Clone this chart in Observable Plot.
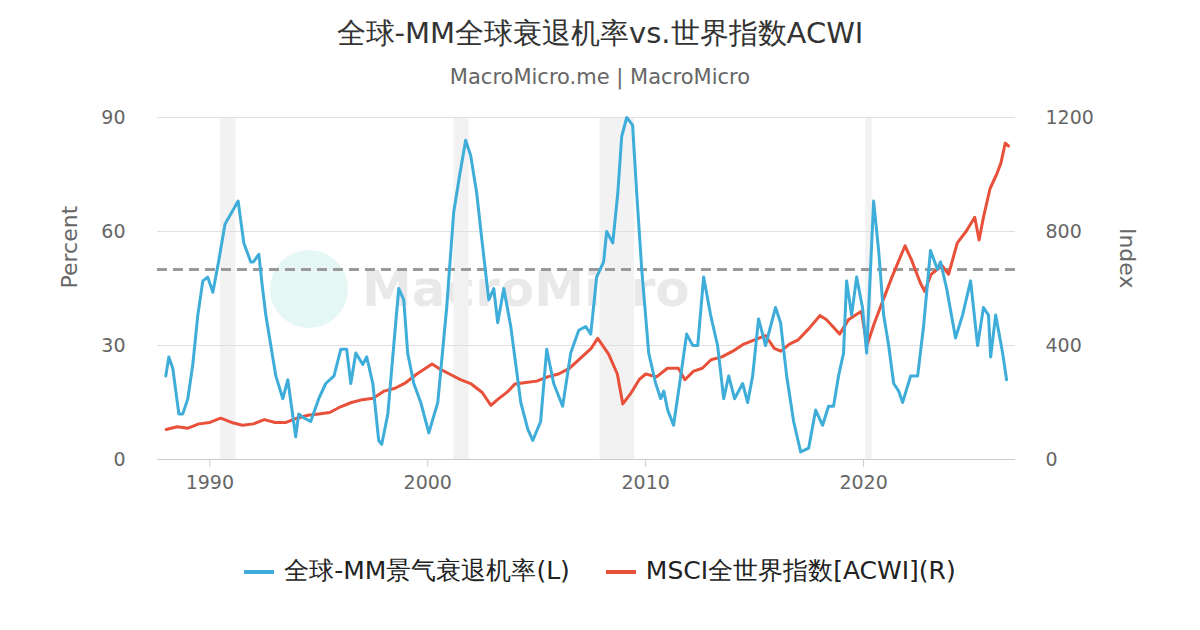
<!DOCTYPE html>
<html><head><meta charset="utf-8">
<script src="https://cdn.jsdelivr.net/npm/d3@7"></script>
<script src="https://cdn.jsdelivr.net/npm/@observablehq/plot@0.6"></script>
<style>
body{margin:0;width:1200px;height:630px;background:#fff;font-family:"DejaVu Sans",sans-serif;position:relative;overflow:hidden}
#title{position:absolute;top:14px;width:100%;text-align:center;font-size:29px;color:#333}
#sub{position:absolute;top:65px;width:100%;text-align:center;font-size:21px;color:#666}
#chart{position:absolute;top:0;left:0}
#legend{position:absolute;top:554px;width:100%;text-align:center;font-size:25px;color:#222}
#legend span{display:inline-block;margin:0 18px}
#legend i{display:inline-block;width:30px;height:4px;vertical-align:middle;margin-right:10px}
#wm{position:absolute;left:270px;top:250px;opacity:.12;font-size:50px;font-weight:bold;color:#555;display:flex;align-items:center}
#wm b{display:inline-block;width:78px;height:78px;border-radius:50%;background:#2fc4b2;margin-right:14px}
#chart text{font-family:"DejaVu Sans"}
</style></head><body>
<div id="title">全球-MM全球衰退机率vs.世界指数ACWI</div>
<div id="sub">MacroMicro.me | MacroMicro</div>
<div id="wm"><b></b>MacroMicro</div>
<div id="chart"></div>
<div id="legend"><span><i style="background:#3eadd9"></i>全球-MM景气衰退机率(L)</span><span><i style="background:#e8503a"></i>MSCI全世界指数[ACWI](R)</span></div>
<script>
const recessions = [[1990.5,1991.2],[2001.2,2001.9],[2007.9,2009.5],[2020.1,2020.4]];
const probT = [1987.98,1988.12,1988.3,1988.44,1988.58,1988.76,1988.99,1989.22,1989.45,1989.68,1989.9,1990.14,1990.4,1990.7,1991.1,1991.3,1991.56,1991.88,1992.0,1992.25,1992.4,1992.57,1993.03,1993.35,1993.58,1993.94,1994.08,1994.3,1994.63,1995.0,1995.32,1995.7,1996.01,1996.28,1996.47,1996.7,1997.02,1997.2,1997.48,1997.75,1997.89,1998.17,1998.44,1998.67,1998.9,1999.08,1999.36,1999.68,2000.05,2000.46,2000.87,2001.19,2001.47,2001.74,2001.97,2002.25,2002.48,2002.8,2003.03,2003.21,2003.49,2003.81,2004.04,2004.27,2004.59,2004.82,2005.18,2005.46,2005.78,2006.19,2006.56,2006.93,2007.25,2007.48,2007.75,2008.07,2008.21,2008.49,2008.72,2008.9,2009.13,2009.4,2009.59,2009.82,2010.14,2010.46,2010.69,2010.83,2011.01,2011.28,2011.56,2011.88,2012.16,2012.39,2012.66,2012.98,2013.3,2013.58,2013.81,2014.08,2014.45,2014.68,2014.91,2015.18,2015.5,2015.96,2016.19,2016.47,2016.79,2017.11,2017.48,2017.8,2018.12,2018.39,2018.62,2018.85,2019.08,2019.22,2019.45,2019.68,2019.95,2020.14,2020.46,2020.69,2020.92,2021.15,2021.38,2021.61,2021.79,2022.16,2022.48,2022.75,2023.07,2023.39,2023.53,2023.81,2024.22,2024.54,2024.91,2025.23,2025.5,2025.73,2025.83,2026.06,2026.38,2026.56];
const probV = [22,27,24,18,12,12,16,25,38,47,48,44,52,62,66,68,57,52,52,54,46,38,22,16,21,6,12,11,10,16,20,22,29,29,20,28,25,27,20,5,4,12,30,45,42,28,20,15,7,15,40,65,75,84,80,70,58,42,45,36,45,35,25,15,8,5,10,29,20,14,28,34,35,33,48,52,60,57,70,85,90,88,70,50,28,20,16,18,13,9,20,33,30,30,48,38,30,16,22,16,20,15,22,37,30,40,36,22,10,2,3,13,9,14,14,22,28,47,38,48,40,28,68,55,38,30,20,18,15,22,22,35,55,50,52,45,32,38,47,30,40,38,27,38,28,21];
const acwiT = [1988.0,1988.5,1989.0,1989.5,1990.0,1990.5,1991.0,1991.5,1992.0,1992.5,1993.0,1993.5,1994.0,1994.5,1995.0,1995.5,1996.0,1996.5,1997.0,1997.5,1998.0,1998.5,1999.0,1999.5,2000.2,2000.5,2001.0,2001.5,2002.0,2002.5,2002.9,2003.2,2003.7,2004.0,2004.5,2005.0,2005.5,2006.0,2006.5,2007.0,2007.5,2007.8,2008.3,2008.7,2008.95,2009.3,2009.7,2010.0,2010.5,2011.0,2011.5,2011.8,2012.2,2012.6,2013.0,2013.5,2014.0,2014.5,2015.0,2015.5,2015.9,2016.2,2016.6,2017.0,2017.5,2018.0,2018.3,2018.9,2019.3,2019.9,2020.15,2020.5,2020.9,2021.3,2021.9,2022.2,2022.6,2022.8,2023.1,2023.6,2023.9,2024.3,2024.7,2025.1,2025.3,2025.5,2025.8,2026.1,2026.3,2026.5,2026.65];
const acwiV = [105,115,110,125,130,145,130,120,125,140,130,130,145,155,160,165,185,200,210,215,240,250,270,300,335,320,300,280,265,235,190,210,240,265,270,275,290,300,320,355,390,425,370,300,195,230,280,300,290,320,320,280,310,320,350,360,380,405,420,435,390,380,405,420,460,505,490,440,490,520,400,480,560,640,750,700,620,590,650,680,650,760,800,850,770,850,950,1000,1040,1110,1100];

const k = 90 / 1200;
const prob = probT.map((t, i) => ({t, v: probV[i]}));
const acwi = acwiT.map((t, i) => ({t, v: acwiV[i] * k}));
const rec = recessions.map(([a, b]) => ({a, b}));

const chart = Plot.plot({
  width: 1200, height: 500,
  marginLeft: 157, marginRight: 185, marginTop: 117, marginBottom: 41,
  style: {fontFamily: "DejaVu Sans", fontSize: "19px", color: "#666"},
  x: {domain: [1987.6, 2026.97]},
  y: {domain: [0, 90]},
  marks: [
    Plot.rectY(rec, {x1: "a", x2: "b", y1: 0, y2: 90, fill: "#f2f2f2"}),
    Plot.gridY([30, 60, 90], {stroke: "#e0e0e0", strokeOpacity: 1}),
    Plot.ruleY([0], {stroke: "#ccc"}),
    Plot.axisY([0, 30, 60, 90], {anchor: "left", tickSize: 0, tickPadding: 32, label: null, fontSize: 19}),
    Plot.axisY([0, 30, 60, 90], {anchor: "right", tickSize: 0, tickPadding: 30, tickFormat: d => String(Math.round(d / k)), label: null, fontSize: 19}),
    Plot.text(["Percent"], {frameAnchor: "left", dx: -88, rotate: -90, fontSize: 22, fill: "#666"}),
    Plot.text(["Index"], {frameAnchor: "right", dx: 112, rotate: 90, fontSize: 22, fill: "#666"}),
    Plot.axisX([1990, 2000, 2010, 2020], {tickFormat: d => String(d), tickSize: 8, stroke: "#ccc", tickPadding: 8, label: null, fontSize: 19}),
    Plot.ruleY([50], {stroke: "#999", strokeWidth: 3, strokeDasharray: "10,6"}),
    Plot.line(acwi, {x: "t", y: "v", stroke: "#e8503a", strokeWidth: 3}),
    Plot.line(prob, {x: "t", y: "v", stroke: "#3eadd9", strokeWidth: 3})
  ]
});
d3.select('#chart').append(() => chart);
</script>
</body></html>
